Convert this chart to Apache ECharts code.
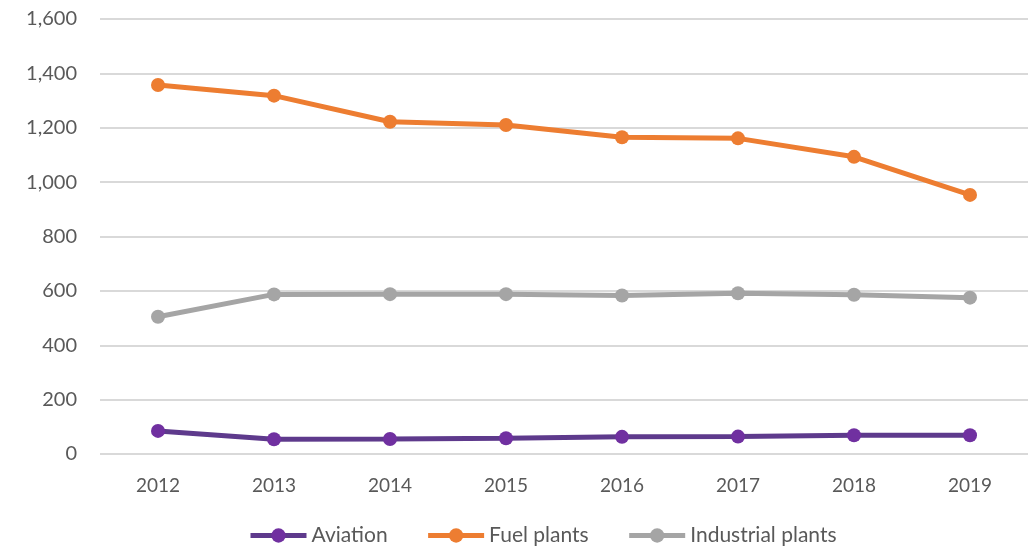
<!DOCTYPE html>
<html>
<head>
<meta charset="utf-8">
<script src="https://cdn.jsdelivr.net/npm/echarts@6/dist/echarts.min.js"></script>
<style>
  html, body { margin: 0; padding: 0; background: #fff; }
  #chart { width: 1031px; height: 551px; }
</style>
</head>
<body>
<div id="chart"></div>
<script>
var years = ["2012", "2013", "2014", "2015", "2016", "2017", "2018", "2019"];
var aviation = [85, 54, 55, 58, 63, 64, 69, 69];
var fuelPlants = [1357, 1318, 1222, 1210, 1165, 1161, 1093, 953];
var industrialPlants = [505, 587, 588, 588, 583, 591, 586, 575];

function serie(name, data, lineColor, dotColor) {
    return {
        name: name,
        type: "line",
        data: data,
        symbol: "circle",
        symbolSize: 14,
        lineStyle: { width: 5, color: lineColor },
        itemStyle: { color: dotColor },
        emphasis: { disabled: true }
    };
}

var chart = echarts.init(document.getElementById("chart"));
chart.setOption({
    animation: false,
    textStyle: { fontFamily: "Lato, 'Noto Sans', sans-serif" },
    grid: { left: 100, right: 3, top: 19, bottom: 97 },
    legend: {
        bottom: 0,
        left: 243,
        itemWidth: 56,
        itemHeight: 18,
        itemGap: 38,
        lineStyle: { width: 5 },
        textStyle: { fontSize: 21, color: "#595959" },
        data: ["Aviation", "Fuel plants", "Industrial plants"]
    },
    xAxis: {
        type: "category",
        data: years,
        boundaryGap: true,
        axisLine: { show: false },
        axisTick: { show: false },
        axisLabel: { fontSize: 19, color: "#595959", margin: 22 }
    },
    yAxis: {
        type: "value",
        min: 0,
        max: 1600,
        interval: 200,
        axisLabel: {
            fontSize: 20,
            color: "#595959",
            margin: 23,
            formatter: function (v) { return v.toLocaleString("en-US"); }
        },
        splitLine: { lineStyle: { color: "#d9d9d9", width: 2 } }
    },
    series: [
        serie("Aviation", aviation, "#5e3a8c", "#7030a0"),
        serie("Fuel plants", fuelPlants, "#ed7d31", "#ed7d31"),
        serie("Industrial plants", industrialPlants, "#a5a5a5", "#a5a5a5")
    ]
});
</script>
</body>
</html>
